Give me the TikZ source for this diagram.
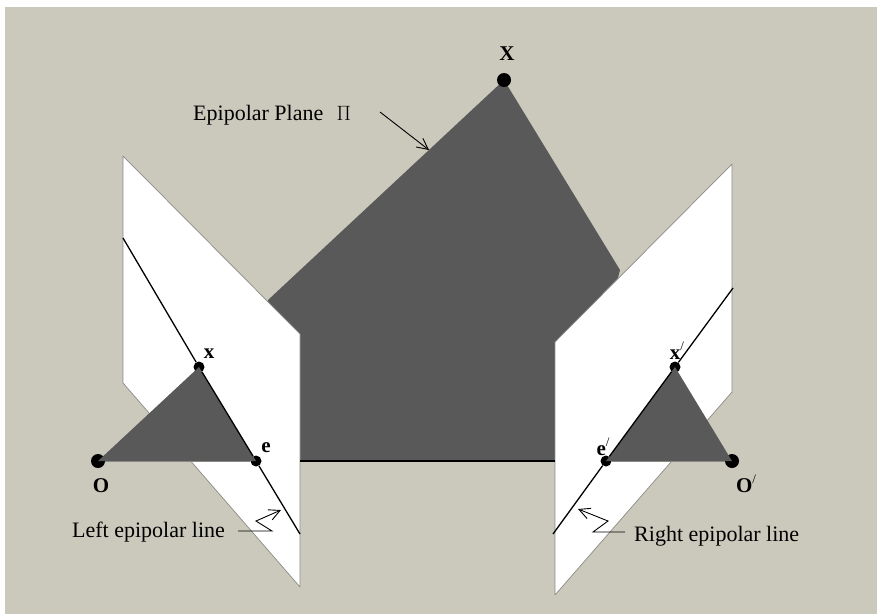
\documentclass[tikz,border=0pt]{standalone}
\usepackage{xcolor}
\usepackage{fontspec}
\setmainfont{Liberation Serif}
\usepackage{tikz}
\usetikzlibrary{arrows.meta,positioning,calc}
\definecolor{bgtan}{HTML}{CBC9BC}
\definecolor{planegray}{HTML}{595959}
\definecolor{edgegray}{HTML}{8A8A84}
\newcommand{\primemark}{\raisebox{0.42em}{\normalfont\fontsize{13}{13}\selectfont /}}

\begin{document}
\begin{tikzpicture}[
  x=1pt,y=-1pt,
  font=\fontsize{22}{24}\selectfont,
  dotbig/.style={circle,fill=black,inner sep=0pt,minimum size=14pt},
  dotsmall/.style={circle,fill=black,inner sep=0pt,minimum size=11pt},
  ptlabel/.style={font=\fontsize{21}{23}\selectfont\bfseries,inner sep=0pt},
  callout/.style={inner sep=0pt,anchor=base west},
  imgplane/.style={fill=white,draw=edgegray,line width=0.7pt,line join=round},
  epiline/.style={line width=1.3pt},
  msg/.style={line width=0.9pt,-{Straight Barb[length=11pt,width=11pt]}}
]
  \useasboundingbox (0,0) rectangle (877,614);
  \fill[white] (0,0) rectangle (877,614);
  \fill[bgtan] (5,7) rectangle (877,614);

  % epipolar plane, both image planes go over it
  \coordinate (pl) at (268,300);
  \coordinate (pr) at (620,270);
  \fill[planegray] (504,80) -- (pl) -- (290,461) -- (570,461) -- (pr) -- cycle;

  % left image plane
  \filldraw[imgplane] (123,156) -- (300,334) -- (300,587) -- (123,383) -- cycle;
  % right image plane
  \filldraw[imgplane] (732,164) -- (732,392) -- (555,595) -- (555,342) -- cycle;

  \node[dotbig] (X) at (504,80) {};
  \node[dotbig] (O) at (98,461) {};
  \node[dotbig] (Op) at (732,461) {};
  \node[dotsmall] (x) at (199,367) {};
  \node[dotsmall] (e) at (256,461) {};
  \node[dotsmall] (xp) at (675,367) {};
  \node[dotsmall] (ep) at (606,461) {};

  % small triangles
  \fill[planegray] (O.center) -- (x.center) -- (e.center) -- cycle;
  \fill[planegray] (Op.center) -- (xp.center) -- (ep.center) -- cycle;

  \coordinate (la) at (123,238);
  \coordinate (lb) at (300,534);
  \coordinate (ra) at (733,288);
  \coordinate (rb) at (553,534);
  \draw[epiline] (la) -- (x) -- (e) -- (lb);
  \draw[epiline] (ra) -- (xp) -- (ep) -- (rb);
  \draw[line width=0.8pt,edgegray] (O) -- (e);
  \draw[line width=0.8pt,edgegray] (Op) -- (ep);
  \coordinate (bl) at (300,461);
  \coordinate (br) at (555,461);
  \draw[line width=1.3pt] (bl) -- (br);

  \node[ptlabel] at (507,54) (Xl) {X};
  \node[ptlabel] at (209,354) (xl) {x};
  \node[ptlabel] at (266,448) (el) {e};
  \node[ptlabel] at (101,486) (Ol) {O};
  \node[ptlabel] at (677,351) (xpl) {x\primemark};
  \node[ptlabel] at (603,447) (epl) {e\primemark};
  \node[ptlabel] at (746,484) (Opl) {O\primemark};

  \node[callout] (plab) at (193,120) {Epipolar Plane\hspace{0.6em}$\Pi$};
  \node[callout] (llab) at (72,537) {Left epipolar line};
  \node[callout] (rlab) at (634,541) {Right epipolar line};

  \coordinate (ps) at (380,112);
  \coordinate (pt) at (429,150);
  \coordinate (ls) at (238,531);
  \coordinate (lk1) at (272,531);
  \coordinate (lk2) at (256,521);
  \coordinate (lt) at (281,510);
  \coordinate (rs) at (625,532);
  \coordinate (rk1) at (593,532);
  \coordinate (rk2) at (608,521);
  \coordinate (rt) at (578,509);
  \draw[msg] (ps) -- (pt);
  \draw[msg] (ls) -- (lk1) -- (lk2) -- (lt);
  \draw[msg] (rs) -- (rk1) -- (rk2) -- (rt);
\end{tikzpicture}
\end{document}
